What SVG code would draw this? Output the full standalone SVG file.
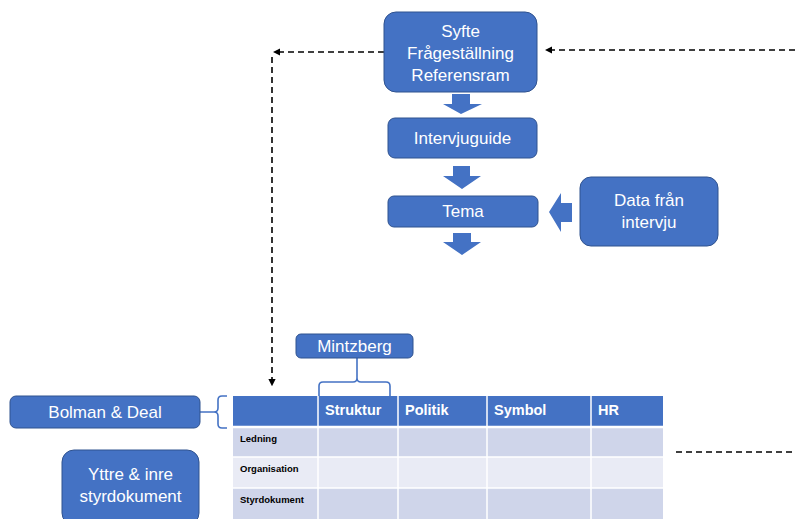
<svg xmlns="http://www.w3.org/2000/svg" width="795" height="519" viewBox="0 0 795 519">
  <defs>
    <style>
      .box { fill: #4472C4; stroke: #2F528F; stroke-width: 1; }
      .lbl { fill: #FFFFFF; font-family: "Liberation Sans", Arial, sans-serif; font-size: 17px; text-anchor: middle; }
      .flow { fill: #4472C4; }
      .dash { fill: none; stroke: #000000; stroke-width: 1.6; stroke-dasharray: 6 4; }
      .brace { fill: none; stroke: #4472C4; stroke-width: 1.6; }
      .hdr { fill: #4472C4; }
      .rowA { fill: #CFD5EA; }
      .rowB { fill: #E9EBF5; }
      .grid { stroke: #FFFFFF; stroke-width: 1.5; }
      .th { fill: #FFFFFF; font-family: "Liberation Sans", Arial, sans-serif; font-size: 14.5px; font-weight: bold; }
      .td { fill: #000000; font-family: "Liberation Sans", Arial, sans-serif; font-size: 9.5px; font-weight: bold; }
    </style>
    <marker id="tip" viewBox="0 0 6 6" refX="5" refY="3" markerWidth="4.5" markerHeight="4.5" orient="auto">
      <path d="M0,0 L6,3 L0,6 z" fill="#000000"/>
    </marker>
  </defs>

  <rect width="795" height="519" fill="#FFFFFF"/>

  <!-- connectors -->
  <g id="connectors">
    <line class="dash" x1="384" y1="52" x2="274" y2="52" marker-end="url(#tip)"/>
    <line class="dash" x1="272" y1="57" x2="272" y2="385" marker-end="url(#tip)"/>
    <line class="dash" x1="795" y1="50" x2="546" y2="50" marker-end="url(#tip)"/>
    <line class="dash" x1="676" y1="452" x2="795" y2="452"/>
    <!-- block arrows -->
    <path class="flow" d="M452,94 H470 V104 H482 L461,114 L443,104 H452 Z"/>
    <path class="flow" d="M453,166 H470 V176 H481 L462,189 L443,176 H453 Z"/>
    <path class="flow" d="M453,233 H471 V242 H481 L462,255 L443,242 H453 Z"/>
    <path class="flow" d="M572,203 V222 H561 V232 L549,212 L561,193 V203 Z"/>
    <!-- braces -->
    <path class="brace" d="M357,358 V378 Q357,382 353,382 H323 Q319,382 319,386 V396 M357,378 Q357,382 361,382 H386 Q390,382 390,386 V396"/>
    <path class="brace" d="M200,412 H214 M227,396 H222 Q218,396 218,400 V408 Q218,412 214,412 Q218,412 218,416 V424 Q218,428 222,428 H227"/>
  </g>

  <g id="node-syfte">
    <rect class="box" x="384" y="12" width="153" height="80" rx="12"/>
    <text class="lbl" x="460.5" y="37">Syfte</text>
    <text class="lbl" x="460.5" y="59">Frågeställning</text>
    <text class="lbl" x="460.5" y="81">Referensram</text>
  </g>

  <g id="node-intervjuguide">
    <rect class="box" x="388" y="118" width="149" height="40" rx="7"/>
    <text class="lbl" x="462.5" y="144">Intervjuguide</text>
  </g>

  <g id="node-tema">
    <rect class="box" x="388" y="196" width="150" height="31" rx="6"/>
    <text class="lbl" x="463" y="217">Tema</text>
  </g>

  <g id="node-data">
    <rect class="box" x="580" y="177" width="138" height="69" rx="11"/>
    <text class="lbl" x="649" y="206">Data från</text>
    <text class="lbl" x="649" y="228">intervju</text>
  </g>

  <g id="node-mintzberg">
    <rect class="box" x="296" y="334" width="117" height="24" rx="5"/>
    <text class="lbl" x="354.5" y="352">Mintzberg</text>
  </g>

  <g id="node-bolman">
    <rect class="box" x="10" y="396" width="190" height="32" rx="6"/>
    <text class="lbl" x="105" y="418">Bolman &amp; Deal</text>
  </g>

  <g id="node-yttre">
    <rect class="box" x="62" y="450" width="137" height="75" rx="12"/>
    <text class="lbl" x="130.5" y="480">Yttre &amp; inre</text>
    <text class="lbl" x="130.5" y="502">styrdokument</text>
  </g>

  <g id="node-table">
    <rect class="hdr" x="233" y="396" width="430" height="31"/>
    <rect class="rowA" x="233" y="427" width="430" height="30"/>
    <rect class="rowB" x="233" y="457" width="430" height="31"/>
    <rect class="rowA" x="233" y="488" width="430" height="31"/>
    <g class="grid">
      <line x1="318" y1="396" x2="318" y2="519"/>
      <line x1="398" y1="396" x2="398" y2="519"/>
      <line x1="487" y1="396" x2="487" y2="519"/>
      <line x1="591" y1="396" x2="591" y2="519"/>
      <line x1="233" y1="427" x2="663" y2="427" stroke-width="2.5"/>
      <line x1="233" y1="457" x2="663" y2="457"/>
      <line x1="233" y1="488" x2="663" y2="488"/>
    </g>
    <text class="th" x="325" y="415">Struktur</text>
    <text class="th" x="405" y="415">Politik</text>
    <text class="th" x="494" y="415">Symbol</text>
    <text class="th" x="598" y="415">HR</text>
    <text class="td" x="240" y="442">Ledning</text>
    <text class="td" x="240" y="472">Organisation</text>
    <text class="td" x="240" y="503">Styrdokument</text>
  </g>
</svg>
